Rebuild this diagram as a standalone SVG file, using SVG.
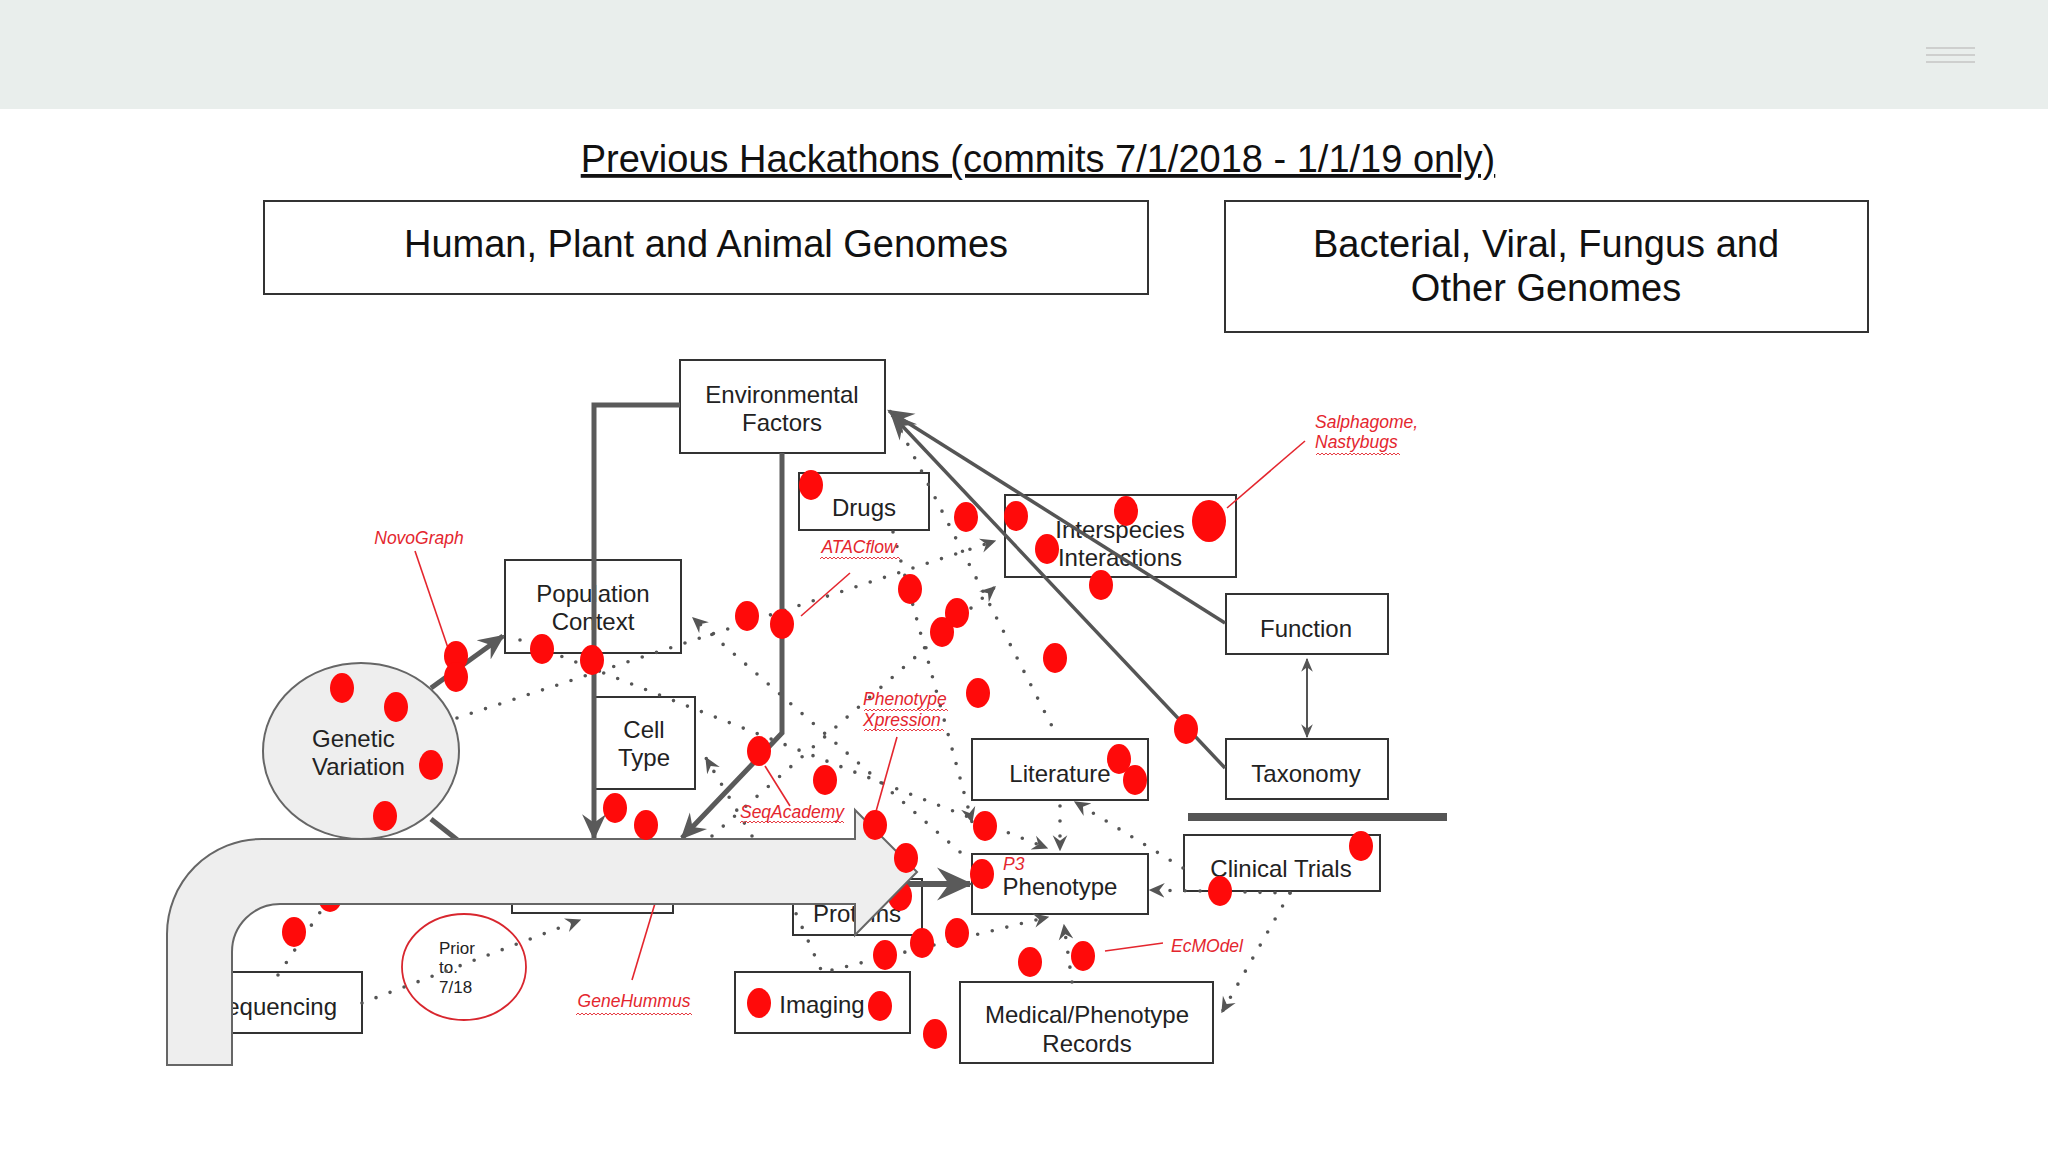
<svg xmlns="http://www.w3.org/2000/svg" width="2048" height="1152" viewBox="0 0 2048 1152">
<defs>
<style>
.box{fill:#fff;stroke:#333;stroke-width:2}
.t{font-family:"Liberation Sans",Arial,sans-serif;font-size:24px;fill:#222;text-anchor:middle}
.h{font-family:"Liberation Sans",Arial,sans-serif;font-size:38px;fill:#111;text-anchor:middle}
.lbl{font-family:"Liberation Sans",Arial,sans-serif;font-size:17.5px;font-style:italic;fill:#e4262e}
.rl{stroke:#e4262e;stroke-width:1.6;fill:none}
.dot{stroke:#555;stroke-width:3.6;stroke-dasharray:0 15;stroke-linecap:round;fill:none}
.sol{stroke:#5a5a5a;stroke-width:5;fill:none}
.thin{stroke:#555;stroke-width:3.5;fill:none}
.rd{fill:#ff0a0a}
.wv{fill:url(#wave)}
</style>
<pattern id="wave" width="4" height="4" patternUnits="userSpaceOnUse"><path d="M0,3 L2,1 L4,3" fill="none" stroke="#e4262e" stroke-width="0.9"/></pattern>
<marker id="ad" viewBox="0 0 12 12" refX="11" refY="6" markerWidth="16" markerHeight="16" markerUnits="userSpaceOnUse" orient="auto"><path d="M0,0.5 L12,6 L0,11.5 L4,6 Z" fill="#555"/></marker>
<marker id="as" viewBox="0 0 12 12" refX="11" refY="6" markerWidth="26" markerHeight="26" markerUnits="userSpaceOnUse" orient="auto"><path d="M0,0.5 L12,6 L0,11.5 L4,6 Z" fill="#5a5a5a"/></marker>
<marker id="ab" viewBox="0 0 12 12" refX="11" refY="6" markerWidth="36" markerHeight="36" markerUnits="userSpaceOnUse" orient="auto"><path d="M0,0.5 L12,6 L0,11.5 L4,6 Z" fill="#5a5a5a"/></marker>
<marker id="at" viewBox="0 0 12 12" refX="11" refY="6" markerWidth="14" markerHeight="14" markerUnits="userSpaceOnUse" orient="auto-start-reverse"><path d="M0,1 L12,6 L0,11 L4,6 Z" fill="#555"/></marker>
</defs>

<rect x="0" y="0" width="2048" height="1152" fill="#fff"/>
<rect x="0" y="0" width="2048" height="109" fill="#e9eeec"/>
<g stroke="#c4c4c4" stroke-width="1.6"><line x1="1926" y1="48" x2="1975" y2="48"/><line x1="1926" y1="55" x2="1975" y2="55"/><line x1="1926" y1="62" x2="1975" y2="62"/></g>

<text class="h" x="1038" y="172" text-decoration="underline">Previous Hackathons (commits 7/1/2018 - 1/1/19 only)</text>

<g id="hdr-human"><rect class="box" x="264" y="201" width="884" height="93"/><text class="h" x="706" y="257">Human, Plant and Animal Genomes</text></g>
<g id="hdr-bacterial"><rect class="box" x="1225" y="201" width="643" height="131"/><text class="h" x="1546" y="257">Bacterial, Viral, Fungus and</text><text class="h" x="1546" y="301">Other Genomes</text></g>

<g id="nodes">
<g id="n-env"><rect class="box" x="680" y="360" width="205" height="93"/><text class="t" x="782" y="403">Environmental</text><text class="t" x="782" y="431">Factors</text></g>
<g id="n-drugs"><rect class="box" x="799" y="473" width="130" height="57"/><text class="t" x="864" y="516">Drugs</text></g>
<g id="n-inter"><rect class="box" x="1005" y="495" width="231" height="82"/><text class="t" x="1120" y="538">Interspecies</text><text class="t" x="1120" y="566">Interactions</text></g>
<g id="n-pop"><rect class="box" x="505" y="560" width="176" height="93"/><text class="t" x="593" y="602">Population</text><text class="t" x="593" y="630">Context</text></g>
<g id="n-func"><rect class="box" x="1226" y="594" width="162" height="60"/><text class="t" x="1306" y="637">Function</text></g>
<g id="n-tax"><rect class="box" x="1226" y="739" width="162" height="60"/><text class="t" x="1306" y="782">Taxonomy</text></g>
<g id="n-cell"><rect class="box" x="594" y="697" width="101" height="92"/><text class="t" x="644" y="738">Cell</text><text class="t" x="644" y="766">Type</text></g>
<g id="n-gv"><ellipse cx="361" cy="751" rx="98" ry="88" fill="#eeeeee" stroke="#666" stroke-width="2"/><text class="t" x="312" y="747" style="text-anchor:start">Genetic</text><text class="t" x="312" y="775" style="text-anchor:start">Variation</text></g>
<g id="n-lit"><rect class="box" x="972" y="739" width="176" height="61"/><text class="t" x="1060" y="782">Literature</text></g>
<g id="n-phen"><rect class="box" x="972" y="854" width="176" height="60"/><text class="t" x="1060" y="895">Phenotype</text></g>
<g id="n-clin"><rect class="box" x="1184" y="835" width="196" height="56"/><text class="t" x="1281" y="877">Clinical Trials</text></g>
<g id="n-med"><rect class="box" x="960" y="982" width="253" height="81"/><text class="t" x="1087" y="1023">Medical/Phenotype</text><text class="t" x="1087" y="1052">Records</text></g>
<g id="n-img"><rect class="box" x="735" y="972" width="175" height="61"/><text class="t" x="822" y="1013">Imaging</text></g>
<g id="n-prot"><rect class="box" x="793" y="879" width="129" height="56"/><text class="t" x="813" y="922" style="text-anchor:start">Proteins</text></g>
<g id="n-hidden"><rect class="box" x="512" y="850" width="161" height="63"/></g>
<g id="n-seq"><rect class="box" x="190" y="972" width="172" height="61"/><text class="t" x="337" y="1015" style="text-anchor:end">Sequencing</text></g>
<g id="n-prior"><ellipse cx="464" cy="967" rx="62" ry="53" fill="none" stroke="#d8262e" stroke-width="1.8"/><text class="t" x="439" y="954" style="text-anchor:start;font-size:17px">Prior</text><text class="t" x="439" y="973" style="text-anchor:start;font-size:17px">to.</text><text class="t" x="439" y="993" style="text-anchor:start;font-size:17px">7/18</text></g>
</g>

<g id="connectors">
<path class="dot" d="M457,718 L995,541" marker-end="url(#ad)"/>
<path class="dot" d="M901,431 L1057,736"/>
<path class="dot" d="M1060,806 L1060,850" marker-end="url(#ad)"/>
<path class="dot" d="M520,640 L1047,848" marker-end="url(#ad)"/>
<path class="dot" d="M893,532 L972,822" marker-end="url(#ad)"/>
<path class="dot" d="M712,836 L995,587" marker-end="url(#ad)"/>
<path class="dot" d="M752,836 L706,758" marker-end="url(#ad)"/>
<path class="dot" d="M960,852 L693,618" marker-end="url(#ad)"/>
<path class="dot" d="M790,900 L822,972"/>
<path class="dot" d="M832,970 L1048,917" marker-end="url(#ad)"/>
<path class="dot" d="M1072,982 L1064,925" marker-end="url(#ad)"/>
<path class="dot" d="M1290,893 L1150,890" marker-end="url(#ad)"/>
<path class="dot" d="M1183,868 L1075,802" marker-end="url(#ad)"/>
<path class="dot" d="M1290,893 L1222,1012" marker-end="url(#ad)"/>
<path class="dot" d="M362,1003 L580,920" marker-end="url(#ad)"/>
<path class="dot" d="M278,975 L345,875"/>
<path class="sol" d="M680,405 L594,405 L594,838" marker-end="url(#as)"/>
<path class="sol" d="M782,453 L782,733 L682,838" marker-end="url(#as)"/>
<path class="sol" d="M431,688 L503,636" marker-end="url(#as)"/>
<path class="sol" d="M431,819 L460,842"/>
<path class="sol" style="stroke-width:6" d="M905,884 L970,884" marker-end="url(#ab)"/>
<path class="thin" d="M1225,623 L889,411" marker-end="url(#as)"/>
<path class="thin" d="M1225,768 L892,415" marker-end="url(#as)"/>
<path d="M1307,659 L1307,737" stroke="#555" stroke-width="2" fill="none" marker-start="url(#at)" marker-end="url(#at)"/>
<line x1="1188" y1="817" x2="1447" y2="817" stroke="#555" stroke-width="8"/>
</g>

<g id="labels">
<path class="rl" d="M415,551 L448,648"/>
<path class="rl" d="M850,573 L801,616"/>
<path class="rl" d="M897,737 L875,815"/>
<path class="rl" d="M790,806 L765,766"/>
<path class="rl" d="M1305,441 L1227,508"/>
<path class="rl" d="M632,980 L656,900"/>
<path class="rl" d="M1163,943 L1105,951"/>
<text class="lbl" x="419" y="544" text-anchor="middle">NovoGraph</text>
<text class="lbl" x="859" y="553" text-anchor="middle">ATACflow</text>
<rect class="wv" x="820" y="556" width="80" height="4"/>
<text class="lbl" x="863" y="705">Phenotype</text>
<rect class="wv" x="864" y="708" width="84" height="4"/>
<text class="lbl" x="863" y="726">Xpression</text>
<rect class="wv" x="864" y="728" width="80" height="4"/>
<text class="lbl" x="792" y="818" text-anchor="middle">SeqAcademy</text>
<rect class="wv" x="740" y="820" width="104" height="4"/>
<text class="lbl" x="1315" y="428">Salphagome,</text>
<text class="lbl" x="1315" y="448">Nastybugs</text>
<rect class="wv" x="1316" y="452" width="84" height="4"/>
<text class="lbl" x="634" y="1007" text-anchor="middle">GeneHummus</text>
<rect class="wv" x="576" y="1012" width="116" height="4"/>
<text class="lbl" x="1207" y="952" text-anchor="middle">EcMOdel</text>
<text class="lbl" x="1003" y="870">P3</text>
</g>

<g id="under-dots">
<ellipse class="rd" cx="330" cy="897" rx="12" ry="15"/>
<ellipse class="rd" cx="900" cy="896" rx="12" ry="15"/>
</g>

<g id="big-arrow">
<path d="M167,1065 L167,934 A95,95 0 0 1 262,839 L855,839 L855,810 L917,872 L855,935 L855,904 L280,904 A48,48 0 0 0 232,952 L232,1065 Z" fill="#eeeeee" stroke="#666" stroke-width="2"/>
</g>

<g id="commit-dots">
<ellipse class="rd" cx="811" cy="485" rx="12" ry="15"/>
<ellipse class="rd" cx="966" cy="517" rx="12" ry="15"/>
<ellipse class="rd" cx="1016" cy="516" rx="12" ry="15"/>
<ellipse class="rd" cx="1126" cy="511" rx="12" ry="15"/>
<ellipse class="rd" cx="1209" cy="521" rx="17" ry="21"/>
<ellipse class="rd" cx="1047" cy="549" rx="12" ry="15"/>
<ellipse class="rd" cx="1101" cy="585" rx="12" ry="15"/>
<ellipse class="rd" cx="910" cy="589" rx="12" ry="15"/>
<ellipse class="rd" cx="957" cy="613" rx="12" ry="15"/>
<ellipse class="rd" cx="942" cy="632" rx="12" ry="15"/>
<ellipse class="rd" cx="747" cy="616" rx="12" ry="15"/>
<ellipse class="rd" cx="782" cy="624" rx="12" ry="15"/>
<ellipse class="rd" cx="1055" cy="658" rx="12" ry="15"/>
<ellipse class="rd" cx="978" cy="693" rx="12" ry="15"/>
<ellipse class="rd" cx="1186" cy="729" rx="12" ry="15"/>
<ellipse class="rd" cx="456" cy="656" rx="12" ry="15"/>
<ellipse class="rd" cx="456" cy="677" rx="12" ry="15"/>
<ellipse class="rd" cx="542" cy="649" rx="12" ry="15"/>
<ellipse class="rd" cx="592" cy="660" rx="12" ry="15"/>
<ellipse class="rd" cx="342" cy="688" rx="12" ry="15"/>
<ellipse class="rd" cx="396" cy="707" rx="12" ry="15"/>
<ellipse class="rd" cx="431" cy="765" rx="12" ry="15"/>
<ellipse class="rd" cx="385" cy="816" rx="12" ry="15"/>
<ellipse class="rd" cx="759" cy="751" rx="12" ry="15"/>
<ellipse class="rd" cx="825" cy="780" rx="12" ry="15"/>
<ellipse class="rd" cx="615" cy="808" rx="12" ry="15"/>
<ellipse class="rd" cx="646" cy="825" rx="12" ry="15"/>
<ellipse class="rd" cx="1119" cy="759" rx="12" ry="15"/>
<ellipse class="rd" cx="1135" cy="780" rx="12" ry="15"/>
<ellipse class="rd" cx="875" cy="825" rx="12" ry="15"/>
<ellipse class="rd" cx="985" cy="826" rx="12" ry="15"/>
<ellipse class="rd" cx="906" cy="858" rx="12" ry="15"/>
<ellipse class="rd" cx="1361" cy="846" rx="12" ry="15"/>
<ellipse class="rd" cx="982" cy="874" rx="12" ry="15"/>
<ellipse class="rd" cx="1220" cy="891" rx="12" ry="15"/>
<ellipse class="rd" cx="922" cy="943" rx="12" ry="15"/>
<ellipse class="rd" cx="957" cy="933" rx="12" ry="15"/>
<ellipse class="rd" cx="885" cy="955" rx="12" ry="15"/>
<ellipse class="rd" cx="1030" cy="962" rx="12" ry="15"/>
<ellipse class="rd" cx="1083" cy="956" rx="12" ry="15"/>
<ellipse class="rd" cx="759" cy="1003" rx="12" ry="15"/>
<ellipse class="rd" cx="880" cy="1006" rx="12" ry="15"/>
<ellipse class="rd" cx="935" cy="1034" rx="12" ry="15"/>
<ellipse class="rd" cx="294" cy="932" rx="12" ry="15"/>
</g>
</svg>
